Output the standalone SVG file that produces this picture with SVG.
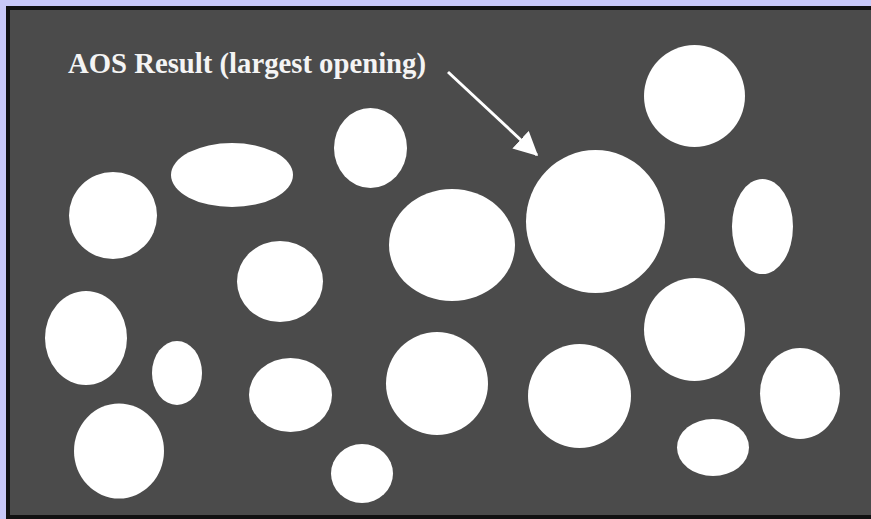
<svg xmlns="http://www.w3.org/2000/svg" width="871" height="519" viewBox="0 0 871 519">
  <defs>
    <style>
      .blob { fill: #ffffff; }
      .label { font-family: "Liberation Serif", "Times New Roman", serif; font-weight: bold; font-size: 29px; fill: #f4f4f4; }
    </style>
    <marker id="arrowhead" markerWidth="8" markerHeight="8" refX="7.5" refY="4" orient="auto" markerUnits="strokeWidth">
      <path d="M0,0 L8,4 L0,8 Z" fill="#ffffff"/>
    </marker>
  </defs>
  <rect x="0" y="0" width="871" height="519" fill="#c8c8f8"/>
  <rect x="6" y="6" width="865" height="513" fill="#111111"/>
  <rect x="10" y="10" width="861" height="505" fill="#4b4b4b"/>

  <g id="blobs">
    <ellipse class="blob" cx="694.5" cy="96" rx="50.5" ry="51"/>
    <ellipse class="blob" cx="232" cy="175" rx="61" ry="32"/>
    <ellipse class="blob" cx="370.5" cy="148" rx="36.5" ry="40"/>
    <ellipse class="blob" cx="113" cy="215.5" rx="44" ry="43.5"/>
    <ellipse class="blob" cx="452" cy="245" rx="63" ry="56"/>
    <ellipse class="blob" cx="595.5" cy="221.5" rx="69.5" ry="71.5"/>
    <ellipse class="blob" cx="762.5" cy="226.5" rx="30.5" ry="47.5"/>
    <ellipse class="blob" cx="280" cy="281.5" rx="43" ry="40.5"/>
    <ellipse class="blob" cx="86" cy="338" rx="41" ry="47"/>
    <ellipse class="blob" cx="177" cy="373" rx="25" ry="32"/>
    <ellipse class="blob" cx="290.5" cy="395" rx="41.5" ry="37"/>
    <ellipse class="blob" cx="437" cy="383.5" rx="51" ry="51.5"/>
    <ellipse class="blob" cx="579.5" cy="396" rx="51.5" ry="52"/>
    <ellipse class="blob" cx="694.5" cy="329.5" rx="50.5" ry="51.5"/>
    <ellipse class="blob" cx="800" cy="393.5" rx="40" ry="45.5"/>
    <ellipse class="blob" cx="119" cy="451" rx="45" ry="47.5"/>
    <ellipse class="blob" cx="362" cy="473.5" rx="31" ry="29.5"/>
    <ellipse class="blob" cx="713" cy="447.5" rx="36" ry="28.5"/>
  </g>

  <g id="annotation">
    <text class="label" x="68" y="73" textLength="358" lengthAdjust="spacingAndGlyphs">AOS Result (largest opening)</text>
    <line x1="448" y1="72" x2="537" y2="155" stroke="#ffffff" stroke-width="3" marker-end="url(#arrowhead)"/>
  </g>
</svg>
